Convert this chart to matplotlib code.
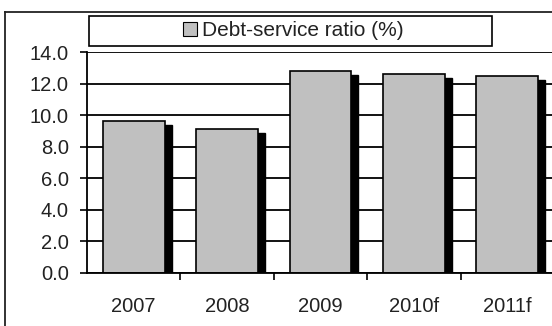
import numpy as np
import matplotlib.pyplot as plt
from matplotlib.patches import Rectangle, Patch
from matplotlib.lines import Line2D

plt.rcParams['font.family'] = ['Liberation Sans', 'DejaVu Sans']
plt.rcParams['text.color'] = '#222222'
plt.rcParams['xtick.labelcolor'] = '#222222'
plt.rcParams['ytick.labelcolor'] = '#222222'

# chart data
years = ['2007', '2008', '2009', '2010f', '2011f']
debt_service = [9.6, 9.1, 12.8, 12.6, 12.5]
series_name = 'Debt-service ratio (%)'

W, H = 552, 326
fig = plt.figure(figsize=(W / 100, H / 100), dpi=100)

# plot area in pixels: left axis x=87, right ~554, top y=52, bottom y=273
ax = fig.add_axes([87 / W, (H - 273) / H, 467 / W, 221 / H])

x = np.arange(len(years))
vals = np.array(debt_service)
bw = 0.663
px = 1 / 93.5  # one pixel in category units

# black drop shadow behind each bar
ax.bar(x + 7 * px, vals - 0.25, width=bw, color='black',
       edgecolor='black', zorder=2)
ax.bar(x, vals, width=bw, color='#c0c0c0', edgecolor='black', lw=1.2,
       zorder=3, label=series_name)

ax.set_xlim(-0.5, len(years) - 0.5)
ax.set_ylim(0, 14)
ax.set_yticks(np.arange(0, 14.1, 2))
ax.set_yticklabels([f'{v:.1f}' for v in np.arange(0, 14.1, 2)])
ax.yaxis.grid(True, color='black', lw=1.3)
ax.set_axisbelow(True)

ax.set_xticks(x)
ax.set_xticklabels(years)
ax.set_xticks(x[:-1] + 0.5, minor=True)
ax.tick_params(axis='x', which='major', length=0, pad=17, labelsize=14.5)
ax.tick_params(axis='x', which='minor', length=5, width=1.2, direction='out')
ax.tick_params(axis='y', length=5, width=1.2, pad=8, labelsize=14.5)

for s in ['top', 'right']:
    ax.spines[s].set_visible(False)
for s in ['left', 'bottom']:
    ax.spines[s].set_linewidth(1.3)
    ax.spines[s].set_zorder(4)

# legend box across the top
fig.patches.append(Rectangle((89 / W, (H - 46) / H), 403 / W, 30 / H,
                             transform=fig.transFigure, fill=False,
                             edgecolor='black', lw=1.2))
handle = Patch(facecolor='#c0c0c0', edgecolor='black', lw=0.8)
fig.legend([handle], [series_name], loc='center',
           bbox_to_anchor=(293 / W, (H - 31) / H), frameon=False,
           fontsize=15, handlelength=0.67, handleheight=0.67,
           handletextpad=0.25, borderpad=0)

# outer chart frame (cropped on right and bottom)
fig.lines.append(Line2D([5 / W, 5 / W], [0, (H - 12) / H],
                        transform=fig.transFigure, color='#222222', lw=1.3))
fig.lines.append(Line2D([5 / W, 1], [(H - 12) / H, (H - 12) / H],
                        transform=fig.transFigure, color='#222222', lw=1.3))

fig.savefig('out.png', dpi=100)
